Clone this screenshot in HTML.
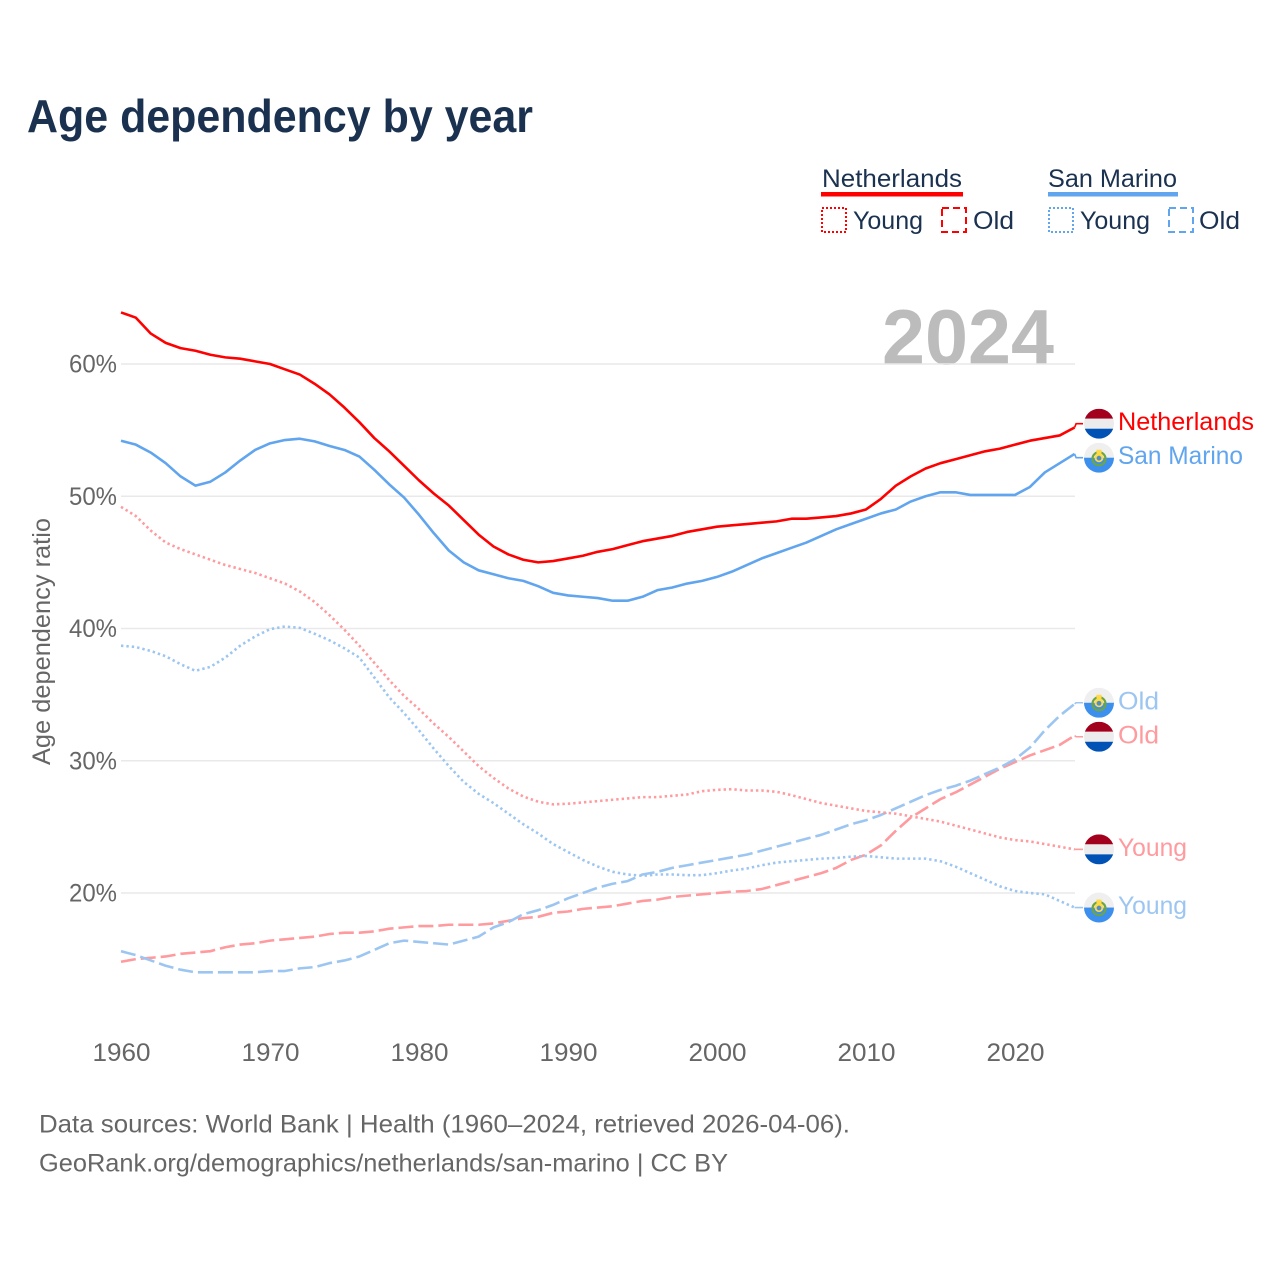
<!DOCTYPE html>
<html lang="en">
<head>
<meta charset="utf-8">
<title>Age dependency by year</title>
<style>
html,body{margin:0;padding:0;background:#fff;}
#chart{display:block;width:1280px;height:1280px;font-family:"Liberation Sans",Arial,sans-serif;}
</style>
</head>
<body>
<svg id="chart" xmlns="http://www.w3.org/2000/svg" width="1280" height="1280" viewBox="0 0 1280 1280">
  <rect width="1280" height="1280" fill="#fff"/>
  <text x="27" y="132" font-size="46" font-weight="700" fill="#1a3150" textLength="506" lengthAdjust="spacingAndGlyphs">Age dependency by year</text>

  <g font-size="25" fill="#1a3150">
    <g>
      <text x="822" y="187" textLength="140" lengthAdjust="spacingAndGlyphs">Netherlands</text>
      <rect x="821" y="192" width="142" height="4.5" fill="#ff0000"/>
      <rect x="822" y="208" width="24" height="24" fill="none" stroke="#ff0000" stroke-width="2" stroke-dasharray="2 2"/>
      <text x="853" y="229" textLength="70" lengthAdjust="spacingAndGlyphs">Young</text>
      <rect x="942" y="208" width="24" height="24" fill="none" stroke="#ff0000" stroke-width="2" stroke-dasharray="7 4"/>
      <text x="973" y="229" textLength="41" lengthAdjust="spacingAndGlyphs">Old</text>
    </g>
    <g>
      <text x="1048" y="187" textLength="129" lengthAdjust="spacingAndGlyphs">San Marino</text>
      <rect x="1048" y="192" width="130" height="4.5" fill="#60a5ee"/>
      <rect x="1049" y="208" width="24" height="24" fill="none" stroke="#60a5ee" stroke-width="2" stroke-dasharray="2 2"/>
      <text x="1080" y="229" textLength="70" lengthAdjust="spacingAndGlyphs">Young</text>
      <rect x="1169" y="208" width="24" height="24" fill="none" stroke="#60a5ee" stroke-width="2" stroke-dasharray="7 4"/>
      <text x="1199" y="229" textLength="41" lengthAdjust="spacingAndGlyphs">Old</text>
    </g>
  </g>

  <text x="882" y="364" font-size="78" font-weight="700" fill="#bcbcbc" textLength="172" lengthAdjust="spacingAndGlyphs">2024</text>

  <g id="grid"></g>
  <g id="yticks"></g>
  <g id="xticks"></g>
  <text transform="translate(50 765) rotate(-90)" font-size="25" fill="#666" textLength="247" lengthAdjust="spacingAndGlyphs">Age dependency ratio</text>
  <g id="series"></g>
  <g id="endlabels"></g>

  <g font-size="25" fill="#666">
    <text x="39" y="1132.5" textLength="811" lengthAdjust="spacingAndGlyphs">Data sources: World Bank | Health (1960–2024, retrieved 2026-04-06).</text>
    <text x="39" y="1171.5" textLength="689" lengthAdjust="spacingAndGlyphs">GeoRank.org/demographics/netherlands/san-marino | CC BY</text>
  </g>

  <defs>
    <clipPath id="flag-clip" clipPathUnits="userSpaceOnUse"><circle cx="0" cy="0" r="15"/></clipPath>
  </defs>
</svg>

<script>
const startYear = 1960;
const xTickLabels = [1960, 1970, 1980, 1990, 2000, 2010, 2020];
const yTickLabels = [20, 30, 40, 50, 60];

const netherlandsTotal = [63.9,63.5,62.3,61.6,61.2,61.0,60.7,60.5,60.4,60.2,60.0,59.6,59.2,58.5,57.7,56.7,55.6,54.4,53.4,52.3,51.2,50.2,49.3,48.2,47.1,46.2,45.6,45.2,45.0,45.1,45.3,45.5,45.8,46.0,46.3,46.6,46.8,47.0,47.3,47.5,47.7,47.8,47.9,48.0,48.1,48.3,48.3,48.4,48.5,48.7,49.0,49.8,50.8,51.5,52.1,52.5,52.8,53.1,53.4,53.6,53.9,54.2,54.4,54.6,55.2];
const sanMarinoTotal = [54.2,53.9,53.3,52.5,51.5,50.8,51.1,51.8,52.7,53.5,54.0,54.25,54.35,54.15,53.8,53.5,53.0,52.0,50.9,49.9,48.6,47.2,45.9,45.0,44.4,44.1,43.8,43.6,43.2,42.7,42.5,42.4,42.3,42.1,42.1,42.4,42.9,43.1,43.4,43.6,43.9,44.3,44.8,45.3,45.7,46.1,46.5,47.0,47.5,47.9,48.3,48.7,49.0,49.6,50.0,50.3,50.3,50.1,50.1,50.1,50.1,50.7,51.8,52.5,53.2];
const netherlandsYoung = [49.2,48.5,47.4,46.5,46.0,45.6,45.2,44.8,44.5,44.2,43.8,43.4,42.8,42.0,41.0,39.9,38.7,37.4,36.1,34.9,33.9,32.8,31.8,30.7,29.6,28.7,27.9,27.3,26.9,26.7,26.75,26.85,26.95,27.05,27.15,27.25,27.25,27.35,27.45,27.7,27.8,27.85,27.75,27.75,27.65,27.4,27.1,26.8,26.6,26.4,26.2,26.1,26.0,25.8,25.6,25.4,25.1,24.8,24.5,24.2,24.0,23.9,23.7,23.5,23.3];
const sanMarinoYoung = [38.7,38.6,38.3,37.9,37.3,36.8,37.1,37.8,38.7,39.4,39.95,40.15,40.05,39.6,39.1,38.5,37.8,36.3,34.8,33.6,32.3,30.9,29.6,28.4,27.5,26.8,26.0,25.2,24.5,23.7,23.1,22.5,22.0,21.6,21.4,21.3,21.4,21.4,21.35,21.35,21.5,21.7,21.85,22.1,22.3,22.4,22.5,22.6,22.65,22.75,22.8,22.7,22.6,22.6,22.6,22.4,22.0,21.5,21.0,20.5,20.15,20.0,19.9,19.4,18.9];
const netherlandsOld = [14.8,15.0,15.1,15.2,15.4,15.5,15.6,15.9,16.1,16.2,16.4,16.5,16.6,16.7,16.9,17.0,17.0,17.1,17.3,17.4,17.5,17.5,17.6,17.6,17.6,17.7,17.9,18.1,18.2,18.5,18.6,18.8,18.9,19.0,19.2,19.4,19.5,19.7,19.8,19.9,20.0,20.1,20.15,20.3,20.6,20.9,21.2,21.5,21.9,22.5,22.9,23.6,24.7,25.7,26.4,27.1,27.6,28.2,28.8,29.4,29.9,30.4,30.8,31.2,31.9];
const sanMarinoOld = [15.6,15.3,14.9,14.5,14.2,14.0,14.0,14.0,14.0,14.0,14.1,14.1,14.3,14.4,14.7,14.9,15.2,15.7,16.2,16.4,16.3,16.2,16.1,16.4,16.7,17.4,17.8,18.4,18.7,19.1,19.6,20.0,20.4,20.7,20.9,21.4,21.6,21.9,22.1,22.3,22.5,22.7,22.9,23.2,23.5,23.8,24.1,24.4,24.8,25.2,25.5,25.9,26.4,26.9,27.4,27.8,28.1,28.5,29.0,29.5,30.1,31.0,32.3,33.4,34.3];

const NS = 'http://www.w3.org/2000/svg';
function x(year) { return 121 + (year - 1960) * 14.9; }
function y(pct) { return 893 - (pct - 20) * 13.225; }
function make(tag, attrs) {
  const el = document.createElementNS(NS, tag);
  for (const k in attrs) el.setAttribute(k, attrs[k]);
  return el;
}
function place(el, parentId) { document.getElementById(parentId).appendChild(el); return el; }

yTickLabels.forEach(function (v) {
  const line = make('line', { x1: 121, x2: 1075, y1: y(v), y2: y(v), stroke: '#e9e9e9', 'stroke-width': 1.5 });
  
  
  place(line, 'grid');
  const t = make('text', { x: 117, y: y(v) + 8.5, 'text-anchor': 'end', 'font-size': 25, fill: '#666', textLength: 48, lengthAdjust: 'spacingAndGlyphs' });
  
  
  t.textContent = v + '%';
  place(t, 'yticks');
});

xTickLabels.forEach(function (v) {
  const t = make('text', { x: x(v) - 28.5, y: 1061, 'font-size': 25, fill: '#666', textLength: 58, lengthAdjust: 'spacingAndGlyphs' });
  
  
  t.textContent = v;
  place(t, 'xticks');
});

const NL_SOLID = '#ff0000', SM_SOLID = '#60a5ee', NL_LIGHT = '#ff9a9e', SM_LIGHT = '#9cc6f1';
const seriesList = [
  { id: 'netherlands-old',   values: netherlandsOld,   color: NL_LIGHT, width: 2.6, dash: '15 5',  flag: 'nl', label: 'Old',         lw: 41 },
  { id: 'san-marino-old',    values: sanMarinoOld,     color: SM_LIGHT, width: 2.6, dash: '15 5',  flag: 'sm', label: 'Old',         lw: 41 },
  { id: 'netherlands-young', values: netherlandsYoung, color: NL_LIGHT, width: 2.6, dash: '2.4 3', flag: 'nl', label: 'Young',       lw: 69 },
  { id: 'san-marino-young',  values: sanMarinoYoung,   color: SM_LIGHT, width: 2.6, dash: '2.4 3', flag: 'sm', label: 'Young',       lw: 69 },
  { id: 'san-marino-total',  values: sanMarinoTotal,   color: SM_SOLID, width: 2.6, dash: '',      flag: 'sm', label: 'San Marino',  lw: 125 },
  { id: 'netherlands-total', values: netherlandsTotal, color: NL_SOLID, width: 2.6, dash: '',      flag: 'nl', label: 'Netherlands', lw: 136 }
];

seriesList.forEach(function (s) {
  const d = s.values.map(function (v, i) { return (i ? 'L' : 'M') + x(startYear + i).toFixed(2) + ' ' + y(v).toFixed(2); }).join(' ');
  const attrs = { d: d, fill: 'none', stroke: s.color, 'stroke-width': s.width, 'stroke-linejoin': 'round' };
  if (s.dash) attrs['stroke-dasharray'] = s.dash;
  const path = make('path', attrs);
  
  
  place(path, 'series');
});

/* End-label placement: start at each series' last value, then push close neighbours apart. */
const ends = seriesList.map(function (s) {
  const last = s.values[s.values.length - 1];
  return { s: s, py: y(last), ly: y(last) };
}).sort(function (a, b) { return a.py - b.py; });
const MIN_GAP = 34;
for (let pass = 0; pass < 5; pass++) {
  for (let i = 1; i < ends.length; i++) {
    const gap = ends[i].ly - ends[i - 1].ly;
    if (gap < MIN_GAP) {
      const shift = (MIN_GAP - gap) / 2;
      ends[i - 1].ly -= shift;
      ends[i].ly += shift;
    }
  }
}

function drawFlag(kind, cy, owner) {
  const g = make('g', { transform: 'translate(1099 ' + cy.toFixed(2) + ')', 'clip-path': 'url(#flag-clip)' });
  
  
  if (kind === 'nl') {
    g.appendChild(make('rect', { x: -15, y: -15, width: 30, height: 10, fill: '#a2001d' }));
    g.appendChild(make('rect', { x: -15, y: -5, width: 30, height: 10, fill: '#ececec' }));
    g.appendChild(make('rect', { x: -15, y: 5, width: 30, height: 10, fill: '#0052b4' }));
  } else {
    g.appendChild(make('rect', { x: -15, y: -15, width: 30, height: 15, fill: '#efefef' }));
    g.appendChild(make('rect', { x: -15, y: 0, width: 30, height: 15, fill: '#3d8fee' }));
    g.appendChild(make('circle', { cx: 0, cy: 1, r: 6.5, fill: 'none', stroke: '#6da544', 'stroke-width': 2.2 }));
    g.appendChild(make('circle', { cx: 0, cy: 0, r: 4.5, fill: '#ffda44' }));
    g.appendChild(make('circle', { cx: 0, cy: 0.5, r: 2.4, fill: '#4f8fc9' }));
    g.appendChild(make('rect', { x: -2.5, y: -8, width: 5, height: 4, fill: '#ffda44' }));
  }
  return g;
}

ends.forEach(function (e) {
  const s = e.s;
  const lx = x(startYear + s.values.length - 1);
  const lead = make('path', { d: 'M' + lx.toFixed(2) + ' ' + e.py.toFixed(2) + ' L' + (lx + 1.5).toFixed(2) + ' ' + e.ly.toFixed(2) + ' L1083 ' + e.ly.toFixed(2), fill: 'none', stroke: s.color, 'stroke-width': 1.6 });
  
  
  place(lead, 'endlabels');
  place(drawFlag(s.flag, e.ly, s.id), 'endlabels');
  const t = make('text', { x: 1118, y: e.ly + 6.5, 'font-size': 25, fill: s.color, textLength: s.lw, lengthAdjust: 'spacingAndGlyphs' });
  
  
  t.textContent = s.label;
  place(t, 'endlabels');
});
</script>
</body>
</html>
